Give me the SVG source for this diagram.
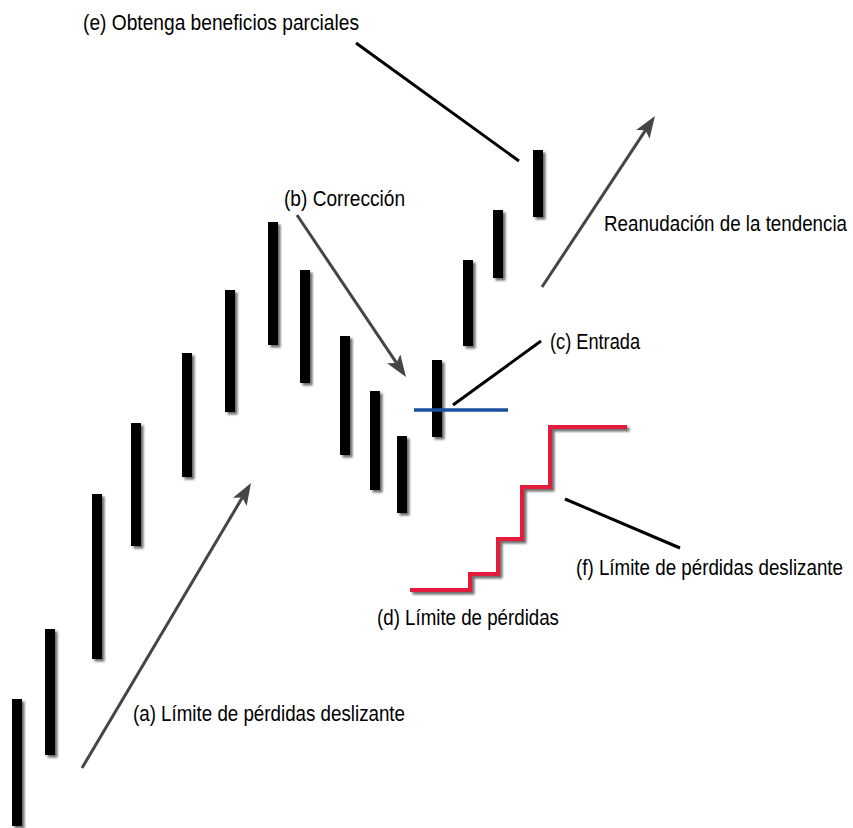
<svg xmlns="http://www.w3.org/2000/svg" width="853" height="828" viewBox="0 0 853 828">
<defs>
<filter id="sh" x="-50%" y="-10%" width="200%" height="120%">
<feDropShadow dx="2.5" dy="2.5" stdDeviation="1" flood-color="#444" flood-opacity="0.8"/>
</filter>
<marker id="ah" viewBox="0 -8 22 16" markerWidth="22" markerHeight="16" refX="5" refY="0" orient="auto" markerUnits="userSpaceOnUse">
<path d="M0,-8 L22,0 L0,8 L5,0 Z" fill="#454545"/>
</marker>
<style>
.bar{fill:#000;filter:url(#sh)}
.arr{stroke:#454545;stroke-width:3;fill:none;marker-end:url(#ah)}
.lead{stroke:#000;stroke-width:3;fill:none}
.lbl{font-family:"Liberation Sans",Arial,sans-serif;font-size:22px;fill:#000}
</style>
</defs>
<rect width="853" height="828" fill="#fff"/>
<g id="bars">
<rect class="bar" x="12" y="699" width="10" height="127"/>
<rect class="bar" x="45" y="629" width="10" height="126"/>
<rect class="bar" x="92" y="494" width="10" height="165"/>
<rect class="bar" x="131" y="423" width="10" height="123"/>
<rect class="bar" x="182" y="353" width="10" height="124"/>
<rect class="bar" x="225" y="290" width="10" height="122"/>
<rect class="bar" x="268" y="222" width="10" height="123"/>
<rect class="bar" x="300" y="270" width="10" height="113"/>
<rect class="bar" x="340" y="336" width="10" height="119"/>
<rect class="bar" x="370" y="391" width="10" height="99"/>
<rect class="bar" x="397" y="436" width="10" height="77"/>
<rect class="bar" x="432" y="360" width="10" height="77"/>
<rect class="bar" x="463" y="260" width="10" height="86"/>
<rect class="bar" x="493" y="210" width="10" height="68"/>
<rect class="bar" x="533" y="150" width="10" height="67"/>
</g>
<g id="connectors">
<line class="arr" x1="82" y1="768" x2="242.3" y2="497.6"/>
<line class="arr" x1="297" y1="215" x2="396.5" y2="362.9"/>
<line class="arr" x1="542" y1="287" x2="645.6" y2="130.2"/>
<line class="lead" x1="356" y1="43" x2="519" y2="161"/>
<line class="lead" x1="453" y1="405" x2="541" y2="341"/>
<line class="lead" x1="565" y1="499" x2="680" y2="548"/>
</g>
<g id="entry-line">
<line x1="414" y1="410" x2="508" y2="410" stroke="#1b4f9c" stroke-width="3.5"/>
</g>
<g id="stop-line">
<polyline points="410,590 470,590 470,574 498,574 498,539 522,539 522,487 550,487 550,427 627,427" fill="none" stroke="#e41e3a" stroke-width="4" filter="url(#sh)"/>
</g>
<g id="labels">
<text id="lbl-e" class="lbl" transform="translate(83,30) scale(0.85,1)" textLength="324.7" lengthAdjust="spacingAndGlyphs">(e) Obtenga beneficios parciales</text>
<text id="lbl-b" class="lbl" transform="translate(284,206) scale(0.85,1)" textLength="142.4" lengthAdjust="spacingAndGlyphs">(b) Corrección</text>
<text id="lbl-r" class="lbl" transform="translate(604,231) scale(0.85,1)" textLength="285.9" lengthAdjust="spacingAndGlyphs">Reanudación de la tendencia</text>
<text id="lbl-c" class="lbl" transform="translate(550,349) scale(0.85,1)" textLength="105.9" lengthAdjust="spacingAndGlyphs">(c) Entrada</text>
<text id="lbl-f" class="lbl" transform="translate(576,575) scale(0.85,1)" textLength="314.1" lengthAdjust="spacingAndGlyphs">(f) Límite de pérdidas deslizante</text>
<text id="lbl-d" class="lbl" transform="translate(377,625) scale(0.85,1)" textLength="214.1" lengthAdjust="spacingAndGlyphs">(d) Límite de pérdidas</text>
<text id="lbl-a" class="lbl" transform="translate(133,721) scale(0.85,1)" textLength="320" lengthAdjust="spacingAndGlyphs">(a) Límite de pérdidas deslizante</text>
</g>
</svg>
